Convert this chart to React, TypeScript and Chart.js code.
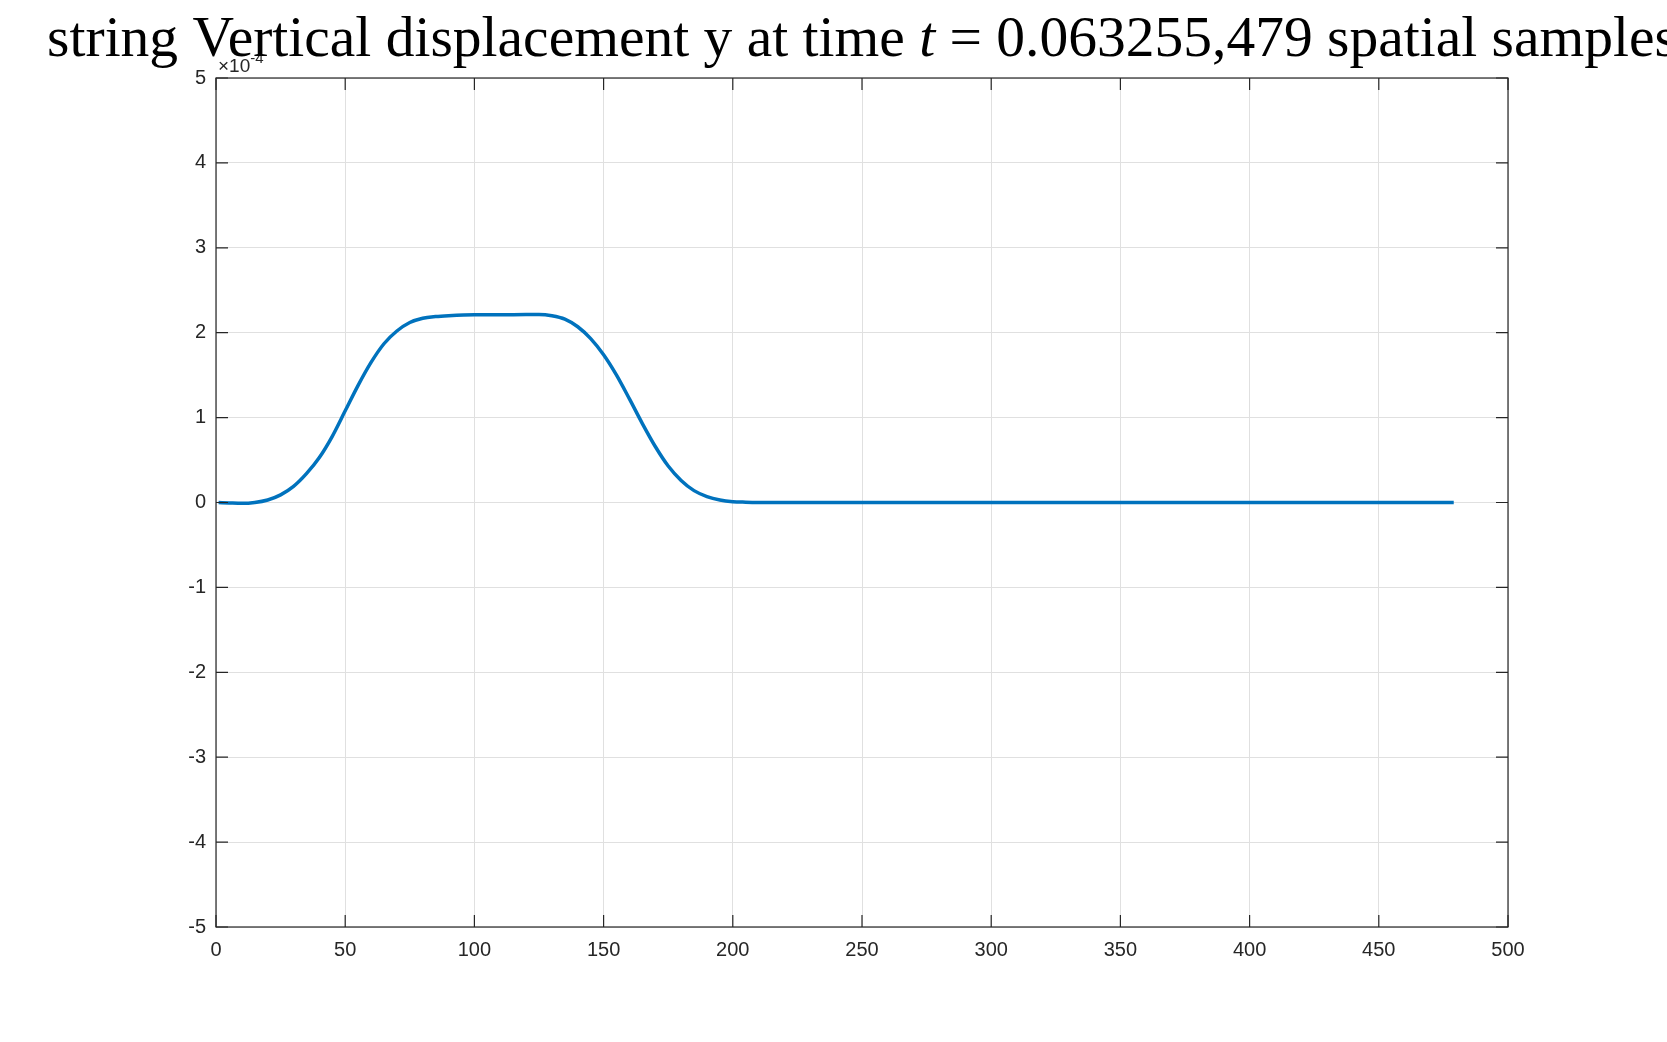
import { useEffect, useRef } from "react";
import { Chart, registerables } from "chart.js";
Chart.register(...registerables);

const TITLE_A = "string Vertical displacement y at time ";
const TITLE_T = "t";
const TITLE_B = " = 0.063255,479 spatial samples";
// sample index along the string
const xs = [1, 5, 10, 15, 20, 25, 30, 35, 40, 45, 50, 55, 60, 65, 70, 75, 80, 85, 90, 100, 110, 120, 125, 130, 135, 140, 145, 150, 155, 160, 165, 170, 175, 180, 185, 190, 195, 200, 205, 210, 220, 250, 300, 350, 400, 450, 479];
// displacement in units of 1e-4
const ys = [0, -0.005, -0.01, 0.0, 0.03, 0.09, 0.19, 0.34, 0.53, 0.78, 1.08, 1.38, 1.65, 1.87, 2.02, 2.12, 2.17, 2.19, 2.2, 2.21, 2.21, 2.215, 2.215, 2.2, 2.16, 2.07, 1.93, 1.74, 1.5, 1.22, 0.93, 0.66, 0.43, 0.26, 0.14, 0.07, 0.03, 0.01, 0.004, 0.001, 0, 0, 0, 0, 0, 0, 0];
const xTicks = [0, 50, 100, 150, 200, 250, 300, 350, 400, 450, 500];
const yTicks = [-5, -4, -3, -2, -1, 0, 1, 2, 3, 4, 5];

const SANS = "Helvetica, 'Liberation Sans', Arial, sans-serif";
const SERIF = "'Liberation Serif', 'DejaVu Serif', serif";

const matlabFrame = {
  id: "matlabFrame",
  afterDraw(chart: any) {
    const { ctx, chartArea: a, scales } = chart;
    ctx.save();
    ctx.strokeStyle = "#262626";
    ctx.lineWidth = 1.2;
    ctx.strokeRect(a.left, a.top, a.right - a.left, a.bottom - a.top);
    const t = 12;
    ctx.beginPath();
    for (const v of xTicks) {
      const px = scales.x.getPixelForValue(v);
      ctx.moveTo(px, a.bottom); ctx.lineTo(px, a.bottom - t);
      ctx.moveTo(px, a.top); ctx.lineTo(px, a.top + t);
    }
    for (const v of yTicks) {
      const py = scales.y.getPixelForValue(v);
      ctx.moveTo(a.left, py); ctx.lineTo(a.left + t, py);
      ctx.moveTo(a.right, py); ctx.lineTo(a.right - t, py);
    }
    ctx.stroke();
    // exponent label
    ctx.fillStyle = "#262626";
    ctx.textBaseline = "alphabetic";
    ctx.font = `19px ${SANS}`;
    ctx.fillText("\u00d710", a.left + 2, a.top - 6);
    const w = ctx.measureText("\u00d710").width;
    ctx.font = `15px ${SANS}`;
    ctx.fillText("-4", a.left + 2 + w, a.top - 15);
    // title, centred over the plot area, with italic t
    let size = 56;
    const measure = (s: number) => {
      ctx.font = `${s}px ${SERIF}`;
      const wa = ctx.measureText(TITLE_A).width, wb = ctx.measureText(TITLE_B).width;
      ctx.font = `italic ${s}px ${SERIF}`;
      const wt = ctx.measureText(TITLE_T).width;
      return [wa, wt, wb];
    };
    let m = measure(size);
    size = size * 1630 / (m[0] + m[1] + m[2]);
    m = measure(size);
    const total = m[0] + m[1] + m[2];
    let x = (a.left + a.right) / 2 - total / 2;
    const y = 56;
    ctx.fillStyle = "#000";
    ctx.textAlign = "left";
    ctx.font = `${size}px ${SERIF}`;
    ctx.fillText(TITLE_A, x, y); x += m[0];
    ctx.font = `italic ${size}px ${SERIF}`;
    ctx.fillText(TITLE_T, x, y); x += m[1];
    ctx.font = `${size}px ${SERIF}`;
    ctx.fillText(TITLE_B, x, y);
    ctx.restore();
  },
};

export default function App() {
  const ref = useRef<HTMLCanvasElement | null>(null);

  useEffect(() => {
    if (!ref.current) return;
    const chart = new Chart(ref.current, {
      type: "line",
      data: {
        datasets: [{
          data: xs.map((x, i) => ({ x, y: ys[i] })),
          borderColor: "#0072BD",
          borderWidth: 3.5,
          pointRadius: 0,
          cubicInterpolationMode: "monotone",
          fill: false,
        }],
      },
      options: {
        animation: false,
        responsive: false,
        layout: { padding: { left: 150, top: 78, right: 159, bottom: 72 } },
        plugins: { legend: { display: false }, tooltip: { enabled: false }, title: { display: false } },
        scales: {
          x: {
            type: "linear", min: 0, max: 500,
            afterBuildTicks: (s: any) => { s.ticks = xTicks.map((v) => ({ value: v })); },
            afterFit: (s: any) => { s.height = 43; },
            grid: { color: "#e0e0e0", drawTicks: false },
            border: { display: false },
            ticks: { color: "#262626", font: { size: 20, family: SANS }, padding: 11 },
          },
          y: {
            min: -5, max: 5,
            afterBuildTicks: (s: any) => { s.ticks = yTicks.map((v) => ({ value: v })); },
            afterFit: (s: any) => { s.width = 66; },
            grid: { color: "#e0e0e0", drawTicks: false },
            border: { display: false },
            ticks: { color: "#262626", font: { size: 20, family: SANS }, padding: 10 },
          },
        },
      },
      plugins: [matlabFrame],
    });
    return () => chart.destroy();
  }, []);

  return (
    <div style={{ position: "absolute", left: 0, top: 0, width: 1667, height: 1042, background: "#fff" }}>
      <canvas ref={ref} width={1667} height={1042} />
    </div>
  );
}
